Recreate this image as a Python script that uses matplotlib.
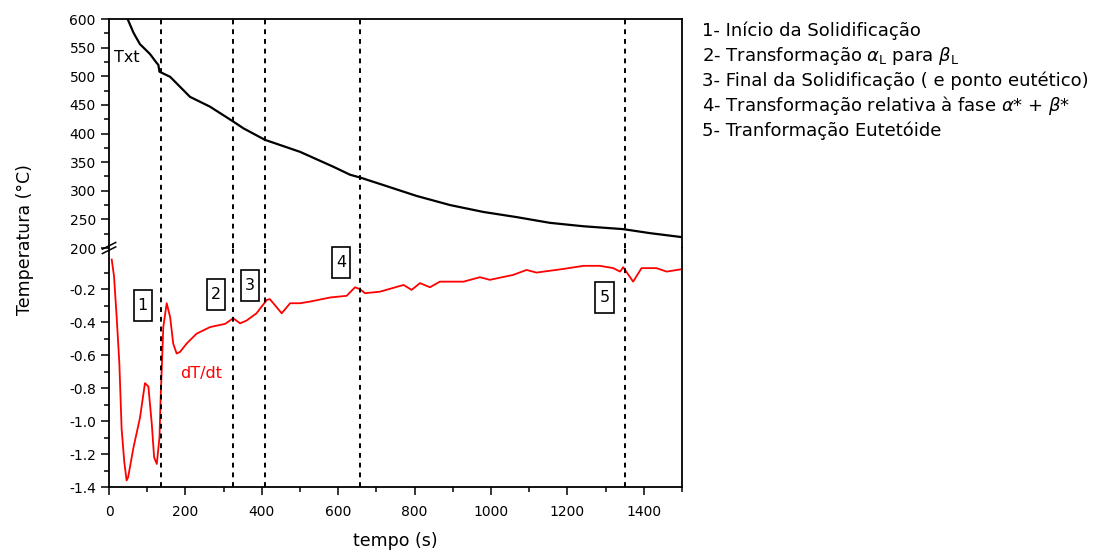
import numpy as np
import matplotlib
matplotlib.use("Agg")
import matplotlib.pyplot as plt
from matplotlib.ticker import MultipleLocator, FixedLocator

plt.rcParams['font.family'] = ['DejaVu Sans']
plt.rcParams['mathtext.fontset'] = 'custom'
plt.rcParams['mathtext.rm'] = 'DejaVu Sans'
plt.rcParams['mathtext.it'] = 'DejaVu Sans:italic'

# temperature curve T x t
t_temp = [48, 64, 81, 107, 125, 129, 132, 160, 212, 264, 325, 352, 408, 500,
          587, 631, 658, 718, 805, 893, 980, 1067, 1154, 1242, 1346, 1416, 1500]
temp = [601, 576, 556, 539, 523, 520, 508, 499, 464, 447, 421, 409, 389, 368,
        342, 328, 323, 310, 291, 275, 263, 254, 244, 238, 233, 226, 219]

# cooling rate dT/dt
t_rate = [7, 13, 20, 27, 33, 40, 46, 50, 64, 81, 94, 103, 112, 118, 125, 132,
          135, 142, 151, 160, 168, 177, 186, 203, 229, 264, 304, 325, 343, 360,
          386, 413, 421, 452, 474, 500, 526, 579, 622, 644, 657, 670, 709, 771,
          792, 814, 840, 866, 928, 971, 997, 1058, 1093, 1119, 1189, 1242, 1285,
          1320, 1338, 1346, 1372, 1394, 1433, 1460, 1500]
rate = [-0.02, -0.12, -0.37, -0.65, -1.05, -1.25, -1.36, -1.34, -1.16, -0.98,
        -0.77, -0.79, -1.02, -1.22, -1.26, -1.10, -0.87, -0.43, -0.285, -0.37,
        -0.53, -0.59, -0.58, -0.53, -0.47, -0.43, -0.41, -0.376, -0.407, -0.39,
        -0.346, -0.265, -0.26, -0.346, -0.285, -0.285, -0.275, -0.25, -0.24,
        -0.188, -0.2, -0.224, -0.215, -0.174, -0.204, -0.163, -0.188, -0.154,
        -0.154, -0.127, -0.143, -0.113, -0.083, -0.099, -0.077, -0.058, -0.058,
        -0.072, -0.093, -0.066, -0.154, -0.072, -0.072, -0.093, -0.078]

# transformation times (dashed lines) and boxed labels
t_events = [135, 325, 408, 658, 1350]
box_labels = ['1', '2', '3', '4', '5']
box_t = [88, 279, 369, 607, 1297]
box_v = [-0.30, -0.23, -0.175, -0.035, -0.25]

legend_lines = [
    u'1- Início da Solidificação',
    u'2- Transformação $\\alpha_{\\rm L}$ para $\\beta_{\\rm L}$',
    u'3- Final da Solidificação ( e ponto eutético)',
    u'4- Transformação relativa à fase $\\alpha$* + $\\beta$*',
    u'5- Tranformação Eutetóide',
]

fig = plt.figure(figsize=(11.07, 5.54), dpi=100)
ax_top = fig.add_axes([0.0985, 0.5523, 0.5176, 0.4134])
ax_bot = fig.add_axes([0.0985, 0.1209, 0.5176, 0.4314])

# upper part: temperature
ax_top.plot(t_temp, temp, color='black', lw=1.6)
ax_top.set_xlim(0, 1500)
ax_top.set_ylim(200, 600)
ax_top.yaxis.set_major_locator(MultipleLocator(50))
ax_top.yaxis.set_minor_locator(MultipleLocator(25))
ax_top.spines['bottom'].set_visible(False)
ax_top.tick_params(axis='x', which='both', bottom=False, labelbottom=False)
ax_top.text(46, 532, 'Txt', fontsize=11.5, ha='center', va='center')

# lower part: dT/dt
ax_bot.plot(t_rate, rate, color='red', lw=1.3)
ax_bot.set_xlim(0, 1500)
ax_bot.set_ylim(-1.4, 0.05)
ax_bot.yaxis.set_major_locator(FixedLocator(np.arange(-1.4, -0.1, 0.2)))
ax_bot.yaxis.set_minor_locator(FixedLocator(np.arange(-1.3, 0.0, 0.1)))
ax_bot.xaxis.set_major_locator(MultipleLocator(200))
ax_bot.xaxis.set_minor_locator(MultipleLocator(100))
ax_bot.spines['top'].set_visible(False)
ax_bot.yaxis.set_major_formatter(plt.FuncFormatter(lambda v, p: '%.1f' % v))
ax_bot.text(242, -0.71, 'dT/dt', color='red', fontsize=11.5,
            ha='center', va='center')

for ax in (ax_top, ax_bot):
    for sp in ax.spines.values():
        sp.set_linewidth(1.3)
    ax.tick_params(which='major', direction='out', length=6, width=1.1,
                   top=False, right=False, labelsize=10)
    ax.tick_params(which='minor', direction='out', length=3.5, width=1.1,
                   top=False, right=False)
    ax.tick_params(axis='x', pad=7)
    for tx in t_events:
        ax.axvline(tx, color='black', lw=1.4, ls=(0, (2.5, 2.5)))

for lab, tx, vy in zip(box_labels, box_t, box_v):
    ax_bot.text(tx, vy, lab, fontsize=11.5, ha='center', va='center',
                bbox=dict(boxstyle='square,pad=0.25', fc='white', ec='black',
                          lw=1.2, mutation_aspect=2.0))

# axis break mark on left spine
yb = 0.5523
for dy in (-0.004, 0.004):
    fig.add_artist(plt.Line2D([0.0985 - 0.006, 0.0985 + 0.006],
                              [yb + dy - 0.006, yb + dy + 0.006],
                              color='black', lw=1.1))

fig.text(0.357, 0.024, 'tempo (s)', fontsize=12.5, ha='center', va='center')
fig.text(0.023, 0.567, u'Temperatura (°C)', rotation=90, fontsize=12.5,
         ha='center', va='center')

ys = [0.944, 0.899, 0.854, 0.809, 0.764]
for s, yy in zip(legend_lines, ys):
    fig.text(0.634, yy, s, fontsize=13, ha='left', va='center')

fig.savefig('out.png', dpi=100)
